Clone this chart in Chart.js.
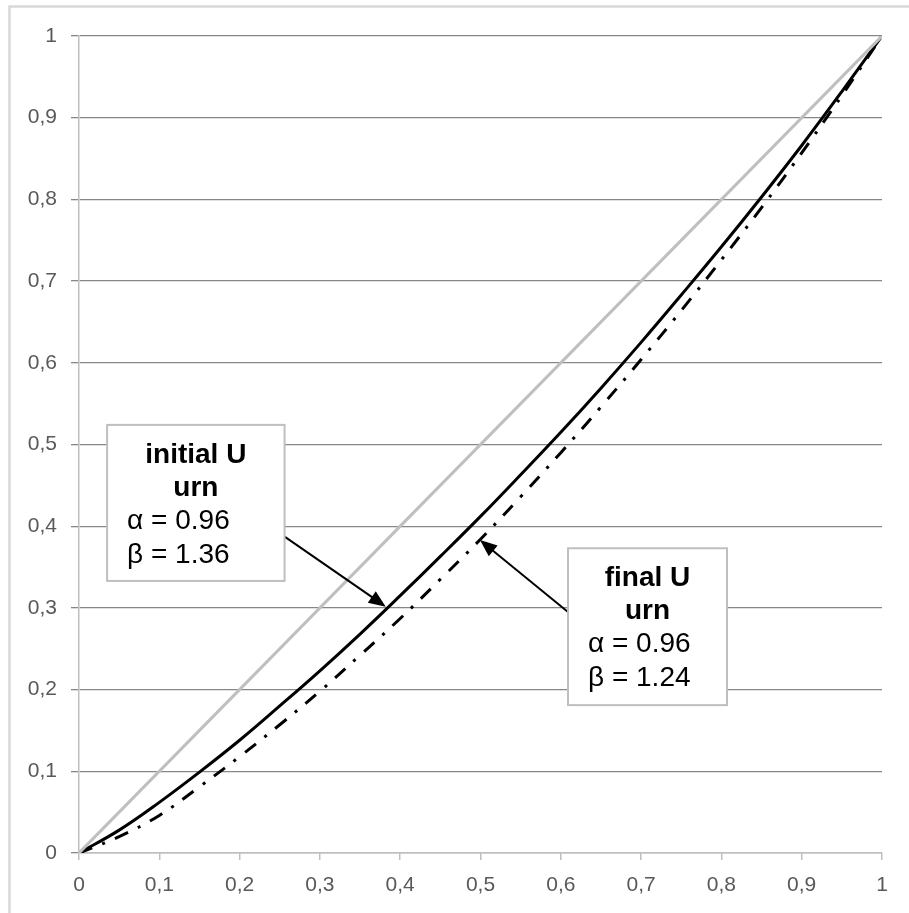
<!DOCTYPE html>
<html>
<head>
<meta charset="utf-8">
<script src="https://cdn.jsdelivr.net/npm/chart.js@4/dist/chart.umd.min.js"></script>
<style>
  html, body { margin: 0; padding: 0; background: #fff; }
  #wrap { width: 909px; height: 913px; position: relative; }
</style>
</head>
<body>
<div id="wrap"><canvas id="chart"></canvas></div>
<script>
// x positions shared by both curves
const xValues = [0, 0.05, 0.1, 0.15, 0.2, 0.25, 0.3, 0.35, 0.4, 0.45, 0.5,
                 0.55, 0.6, 0.65, 0.7, 0.75, 0.8, 0.85, 0.9, 0.95, 1];
// initial U urn (solid black)
const initialUrn = [0, 0.028, 0.062, 0.099, 0.138, 0.180, 0.223, 0.268, 0.315, 0.363, 0.412,
                    0.463, 0.515, 0.569, 0.625, 0.683, 0.742, 0.803, 0.866, 0.932, 1];
// final U urn (dash-dot black)
const finalUrn = [0, 0.020, 0.046, 0.081, 0.118, 0.157, 0.198, 0.242, 0.287, 0.335, 0.384,
                  0.436, 0.490, 0.546, 0.604, 0.664, 0.726, 0.790, 0.857, 0.927, 1];
// reference diagonal (grey)
const diagX = [0, 1];
const diagY = [0, 1];

const tickValues = [0, 0.1, 0.2, 0.3, 0.4, 0.5, 0.6, 0.7, 0.8, 0.9, 1];

const toPoints = (xs, ys) => xs.map((x, i) => ({ x: x, y: ys[i] }));

const fmt = v => String(Math.round(v * 10) / 10).replace('.', ',');

// callout boxes, in data coordinates
const callouts = [
  { title: ['initial U', 'urn'], lines: ['α = 0.96', 'β = 1.36'],
    box: [0.035, 0.524, 0.256, 0.333], from: [0.2565, 0.387], to: [0.382, 0.3015] },
  { title: ['final U', 'urn'], lines: ['α = 0.96', 'β = 1.24'],
    box: [0.609, 0.373, 0.807, 0.181], from: [0.609, 0.295], to: [0.4994, 0.383] }
];

const frame = {
  id: 'frame',
  beforeDraw(chart) {
    const ctx = chart.ctx;
    ctx.save();
    ctx.fillStyle = '#fff';
    ctx.fillRect(0, 0, chart.width, chart.height);
    ctx.strokeStyle = '#d9d9d9';
    ctx.lineWidth = 2.5;
    ctx.strokeRect(9.5, 6.5, 1000, 1000);
    ctx.restore();
  }
};

// tick labels drawn by hand so the font size is exact
const tickLabels = {
  id: 'tickLabels',
  afterDraw(chart) {
    const ctx = chart.ctx;
    const sx = chart.scales.x, sy = chart.scales.y;
    ctx.save();
    ctx.fillStyle = '#595959';
    ctx.font = '21px "Liberation Sans", Arial, sans-serif';
    ctx.textBaseline = 'middle';
    ctx.textAlign = 'right';
    tickValues.forEach(v => ctx.fillText(fmt(v), sy.left + 57, sy.getPixelForValue(v)));
    ctx.textAlign = 'center';
    tickValues.forEach(v => ctx.fillText(fmt(v), sx.getPixelForValue(v), sx.top + 32));
    ctx.restore();
  }
};

const calloutPlugin = {
  id: 'callouts',
  afterDatasetsDraw(chart) {
    const ctx = chart.ctx;
    const sx = chart.scales.x, sy = chart.scales.y;
    ctx.save();
    callouts.forEach(c => {
      const l = sx.getPixelForValue(c.box[0]), t = sy.getPixelForValue(c.box[1]);
      const r = sx.getPixelForValue(c.box[2]), b = sy.getPixelForValue(c.box[3]);

      // arrow
      const x0 = sx.getPixelForValue(c.from[0]), y0 = sy.getPixelForValue(c.from[1]);
      const x1 = sx.getPixelForValue(c.to[0]), y1 = sy.getPixelForValue(c.to[1]);
      const ang = Math.atan2(y1 - y0, x1 - x0);
      const hl = 17, hw = 7;
      ctx.strokeStyle = '#000';
      ctx.lineWidth = 2;
      ctx.beginPath();
      ctx.moveTo(x0, y0);
      ctx.lineTo(x1 - Math.cos(ang) * hl * 0.8, y1 - Math.sin(ang) * hl * 0.8);
      ctx.stroke();
      ctx.fillStyle = '#000';
      ctx.beginPath();
      ctx.moveTo(x1, y1);
      ctx.lineTo(x1 - Math.cos(ang) * hl + Math.sin(ang) * hw, y1 - Math.sin(ang) * hl - Math.cos(ang) * hw);
      ctx.lineTo(x1 - Math.cos(ang) * hl - Math.sin(ang) * hw, y1 - Math.sin(ang) * hl + Math.cos(ang) * hw);
      ctx.closePath();
      ctx.fill();

      // box
      ctx.fillStyle = '#fff';
      ctx.fillRect(l, t, r - l, b - t);
      ctx.strokeStyle = '#bfbfbf';
      ctx.lineWidth = 2;
      ctx.strokeRect(l, t, r - l, b - t);

      // text
      ctx.fillStyle = '#000';
      ctx.textBaseline = 'alphabetic';
      ctx.font = 'bold 28px "Liberation Sans", Arial, sans-serif';
      ctx.textAlign = 'center';
      ctx.fillText(c.title[0], (l + r) / 2, t + 38);
      ctx.fillText(c.title[1], (l + r) / 2, t + 71);
      ctx.font = '28px "Liberation Sans", Arial, sans-serif';
      ctx.textAlign = 'left';
      ctx.fillText(c.lines[0], l + 20, t + 104);
      ctx.fillText(c.lines[1], l + 20, t + 138);
    });
    ctx.restore();
  }
};

new Chart(document.getElementById('chart'), {
  type: 'line',
  data: {
    datasets: [
      {
        label: 'diagonal',
        data: toPoints(diagX, diagY),
        borderColor: '#bfbfbf',
        borderWidth: 3,
        pointRadius: 0
      },
      {
        label: 'initial U urn',
        data: toPoints(xValues, initialUrn),
        borderColor: '#000',
        borderWidth: 3,
        pointRadius: 0,
        tension: 0.4
      },
      {
        label: 'final U urn',
        data: toPoints(xValues, finalUrn),
        borderColor: '#000',
        borderWidth: 3,
        borderDash: [14, 11, 3, 11],
        pointRadius: 0,
        tension: 0.4
      }
    ]
  },
  options: {
    responsive: true,
    maintainAspectRatio: false,
    animation: false,
    layout: { padding: { left: 0, right: 27, top: 36, bottom: 0 } },
    plugins: {
      legend: { display: false },
      tooltip: { enabled: false }
    },
    scales: {
      x: {
        type: 'linear',
        min: 0,
        max: 1,
        afterBuildTicks: s => { s.ticks = tickValues.map(v => ({ value: v })); },
        afterFit: s => { s.height = 60; },
        grid: { drawOnChartArea: false, drawTicks: true, tickLength: 7, color: '#bfbfbf', lineWidth: 1.5 },
        border: { color: '#bfbfbf', width: 1.5 },
        ticks: { display: true, color: 'rgba(0,0,0,0)', callback: v => fmt(v) }
      },
      y: {
        min: 0,
        max: 1,
        afterBuildTicks: s => { s.ticks = tickValues.map(v => ({ value: v })); },
        afterFit: s => { s.width = 79; },
        grid: { color: '#878787', lineWidth: 1.3, tickLength: 8 },
        border: { color: '#bfbfbf', width: 1.5 },
        ticks: { display: true, color: 'rgba(0,0,0,0)', callback: v => fmt(v) }
      }
    }
  },
  plugins: [frame, calloutPlugin, tickLabels]
});
</script>
</body>
</html>
